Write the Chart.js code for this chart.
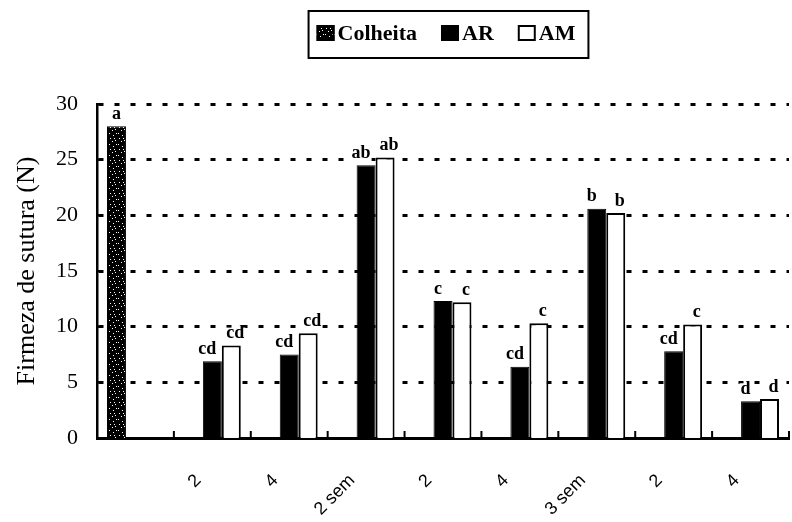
<!DOCTYPE html>
<html>
<head>
<meta charset="utf-8">
<script src="https://cdn.jsdelivr.net/npm/chart.js@4/dist/chart.umd.min.js"></script>
<style>
  html, body { margin: 0; padding: 0; background: #fff; }
</style>
</head>
<body>
<canvas id="grafico" width="792" height="522"></canvas>
<script>
// Categorias do eixo x (a primeira é a colheita, sem rótulo)
const categorias = ['', '2', '4', '2 sem', '2', '4', '3 sem', '2', '4'];

// Firmeza de sutura (N)
const colheita = [28.0, null, null, null, null, null, null, null, null];
const ar = [null, 6.9, 7.5, 24.5, 12.3, 6.4, 20.6, 7.8, 3.3];
const am = [null, 8.3, 9.4, 25.2, 12.2, 10.3, 20.2, 10.2, 3.5];

// Letras do teste de médias
const letrasColheita = ['a', '', '', '', '', '', '', '', ''];
const letrasAR = ['', 'cd', 'cd', 'ab', 'c', 'cd', 'b', 'cd', 'd'];
const letrasAM = ['', 'cd', 'cd', 'ab', 'c', 'c', 'b', 'c', 'd'];

const serif = '"Liberation Serif", "Times New Roman", serif';

const canvas = document.getElementById('grafico');

// Preenchimento pontilhado da barra de colheita
function pontilhado() {
  const c = document.createElement('canvas');
  c.width = 9; c.height = 11;
  const g = c.getContext('2d');
  g.fillStyle = '#000';
  g.fillRect(0, 0, 9, 11);
  g.fillStyle = '#fff';
  [[1, 1], [5, 3], [2, 6], [7, 8], [4, 9], [8, 1], [6, 6]].forEach(([x, y]) => g.fillRect(x, y, 1, 1));
  return canvas.getContext('2d').createPattern(c, 'repeat');
}

// Legenda em caixa com borda
const legendaCaixa = {
  id: 'legendaCaixa',
  afterDraw(chart) {
    const ctx = chart.ctx;
    const area = chart.chartArea;
    ctx.save();
    ctx.font = 'bold 22px ' + serif;
    const caixa = 18, gapTexto = 3, gapItem = 24;
    const itens = chart.data.datasets.map(ds => ({ ds, w: ctx.measureText(ds.label).width }));
    const total = itens.reduce((s, it) => s + caixa + gapTexto + it.w, 0) + gapItem * (itens.length - 1);
    let x = (area.left + area.right) / 2 + 3 - total / 2;
    const meio = 33;
    ctx.lineWidth = 2;
    ctx.strokeStyle = '#000';
    ctx.strokeRect(x - 8, 11, total + 21, 47);
    ctx.textBaseline = 'middle';
    itens.forEach(it => {
      ctx.fillStyle = it.ds.backgroundColor;
      ctx.fillRect(x, meio - 8, caixa, 16);
      ctx.lineWidth = 2;
      ctx.strokeRect(x + 1, meio - 7, caixa - 2, 14);
      ctx.fillStyle = '#000';
      ctx.fillText(it.ds.label, x + caixa + gapTexto, meio + 1);
      x += caixa + gapTexto + it.w + gapItem;
    });
    ctx.restore();
  }
};

// Marcas internas dos eixos
const marcasEixos = {
  id: 'marcasEixos',
  afterDatasetsDraw(chart) {
    const { ctx, scales: { x, y } } = chart;
    ctx.save();
    ctx.strokeStyle = '#000';
    ctx.lineWidth = 2;
    ctx.beginPath();
    const n = x.ticks.length;
    for (let i = 1; i <= n; i++) {
      const px = i < n
        ? (x.getPixelForTick(i - 1) + x.getPixelForTick(i)) / 2
        : x.right;
      ctx.moveTo(px, y.bottom);
      ctx.lineTo(px, y.bottom - 7);
    }
    y.ticks.forEach(t => {
      const py = y.getPixelForValue(t.value);
      ctx.moveTo(x.left, py);
      ctx.lineTo(x.left + 4, py);
    });
    ctx.stroke();
    ctx.restore();
  }
};

// Letras sobre as barras, com fundo branco sobre a grade
const letrasBarras = {
  id: 'letrasBarras',
  afterDatasetsDraw(chart) {
    const ctx = chart.ctx;
    const letras = [letrasColheita, letrasAR, letrasAM];
    const desloc = [0, -5, 4];
    ctx.save();
    ctx.font = 'bold 18px ' + serif;
    ctx.textAlign = 'center';
    ctx.textBaseline = 'bottom';
    chart.data.datasets.forEach((ds, d) => {
      chart.getDatasetMeta(d).data.forEach((barra, i) => {
        if (ds.data[i] == null || !letras[d][i]) return;
        const tx = barra.x + desloc[d];
        const ty = barra.y - 3;
        const w = ctx.measureText(letras[d][i]).width;
        ctx.fillStyle = '#fff';
        ctx.fillRect(tx - w / 2 - 1, ty - 15, w + 2, 14);
        ctx.fillStyle = '#000';
        ctx.fillText(letras[d][i], tx, ty);
      });
    });
    ctx.restore();
  }
};

new Chart(canvas, {
  type: 'bar',
  data: {
    labels: categorias,
    datasets: [
      { label: 'Colheita', data: colheita, backgroundColor: pontilhado(), borderColor: '#000', borderWidth: 1 },
      { label: 'AR', data: ar, backgroundColor: '#000', borderColor: '#000', borderWidth: 1 },
      { label: 'AM', data: am, backgroundColor: '#fff', borderColor: '#000', borderWidth: 2 }
    ]
  },
  options: {
    responsive: false,
    animation: false,
    layout: { padding: { top: 104, right: 3, left: 0, bottom: 0 } },
    datasets: { bar: { barPercentage: 1, categoryPercentage: 0.74 } },
    plugins: {
      legend: { display: false },
      tooltip: { enabled: false }
    },
    scales: {
      x: {
        afterFit: s => { s.height = 84; },
        grid: { display: false },
        border: { color: '#000', width: 3 },
        ticks: {
          color: '#000',
          font: { family: '"Liberation Sans", Arial, sans-serif', size: 18 },
          minRotation: 45,
          maxRotation: 45,
          padding: 24,
          labelOffset: -14,
          autoSkip: false
        }
      },
      y: {
        min: 0,
        max: 30,
        afterFit: s => { s.width = 97; },
        grid: {
          color: '#000',
          lineWidth: c => (c.tick && c.tick.value === 0 ? 0 : 3),
          drawTicks: false
        },
        border: { color: '#000', width: 2.5, dash: [5, 11] },
        ticks: {
          stepSize: 5,
          color: '#000',
          padding: 19,
          font: { family: serif, size: 22 }
        },
        title: {
          display: true,
          text: 'Firmeza de sutura (N)',
          color: '#000',
          font: { family: serif, size: 26 },
          padding: { top: 12, bottom: 0 }
        }
      }
    }
  },
  plugins: [marcasEixos, letrasBarras, legendaCaixa]
});
</script>
</body>
</html>
